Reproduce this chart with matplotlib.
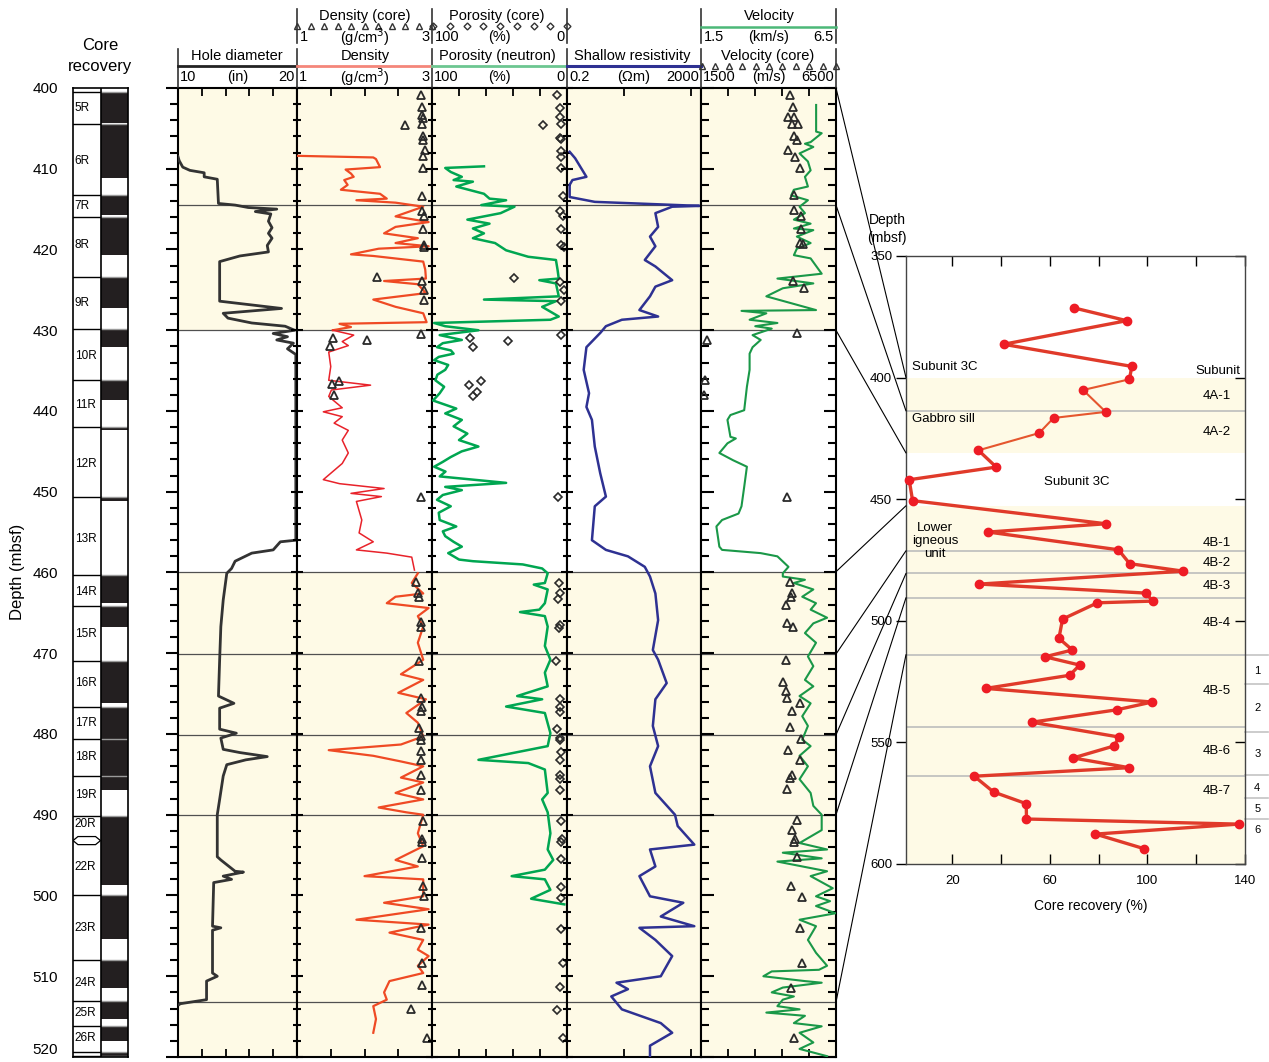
import numpy as np
import matplotlib
matplotlib.use('Agg')
import matplotlib.pyplot as plt
from matplotlib.ticker import MultipleLocator, FixedLocator
from matplotlib.patches import ConnectionPatch

plt.rcParams['font.family'] = ['Liberation Sans', 'DejaVu Sans']

# ---- downhole logs: (depth mbsf, value) ----
hole_diam = [(408.5, 10.0), (409.0, 10.1), (409.8, 10.4), (410.2, 11.0), (410.5, 12.2), (411.0, 12.2),
             (411.3, 13.3), (414.3, 13.4), (414.5, 14.8), (414.8, 15.9), (415.0, 18.3), (415.3, 16.5),
             (415.6, 17.8), (416.5, 17.6), (417.3, 17.9), (418.0, 17.6), (418.6, 17.9), (419.5, 17.5),
             (420.3, 17.6), (420.8, 15.2), (421.5, 13.5), (426.4, 13.5), (427.3, 18.7), (427.9, 13.8),
             (428.5, 14.2), (429.1, 16.2), (429.5, 19.0), (430.0, 19.8), (430.4, 18.0), (430.8, 19.2),
             (431.2, 18.3), (431.6, 19.7), (432.3, 19.2), (433.0, 19.9), (456.0, 19.9), (456.2, 18.6),
             (457.2, 18.0), (457.6, 16.2), (458.1, 15.5), (458.6, 14.8), (459.5, 14.5), (460.1, 14.1),
             (463.4, 13.8), (466.7, 13.6), (470.8, 13.5), (475.3, 13.4), (476.2, 14.7), (476.8, 13.5),
             (479.4, 13.5), (479.9, 14.9), (480.5, 13.6), (481.9, 13.8), (482.3, 15.2), (482.8, 17.5),
             (483.2, 15.7), (483.8, 14.1), (485.2, 13.8), (488.1, 13.5), (490.0, 13.3), (495.2, 13.3),
             (495.6, 13.6), (497.0, 14.8), (497.1, 15.5), (497.6, 13.8), (498.0, 14.5), (498.4, 13.0),
             (503.8, 12.9), (504.0, 13.6), (504.3, 12.9), (509.6, 12.9), (510.0, 13.3), (510.6, 12.4),
             (512.9, 12.4), (513.4, 10.2), (513.5, 10.1)]

density = [(408.4, 1.00), (408.6, 2.13), (408.8, 2.17), (409.8, 2.23), (410.1, 1.72), (410.6, 1.80),
           (411.0, 1.84), (411.4, 1.70), (412.0, 1.75), (412.6, 1.65), (412.8, 1.88), (413.1, 2.23),
           (413.7, 2.33), (413.9, 1.88), (414.2, 2.46), (414.7, 2.87), (415.2, 2.70), (415.9, 2.46),
           (416.6, 2.95), (417.2, 2.46), (418.0, 2.29), (418.6, 2.79), (419.2, 2.46), (419.6, 2.95),
           (419.9, 2.21), (420.6, 1.80), (420.8, 2.13), (421.5, 2.87), (422.5, 2.90), (423.6, 2.91),
           (423.9, 2.29), (424.3, 2.79), (425.4, 2.91), (426.2, 2.13), (427.1, 2.46), (427.9, 2.87),
           (429.0, 2.92), (429.2, 1.63), (429.6, 1.80), (430.0, 1.53), (430.6, 1.84), (431.4, 1.67),
           (431.9, 1.76), (432.7, 1.47), (434.5, 1.50), (436.2, 1.47), (436.8, 2.09), (437.4, 1.51),
           (438.2, 1.47), (439.6, 1.67), (440.1, 1.39), (440.7, 1.67), (441.5, 1.55), (442.4, 1.76),
           (443.6, 1.67), (445.2, 1.76), (446.5, 1.67), (448.5, 1.39), (449.0, 1.63), (449.6, 2.29),
           (450.2, 1.80), (450.6, 2.25), (451.2, 1.88), (453.5, 1.96), (455.1, 1.92), (456.2, 2.13),
           (457.2, 1.88), (457.6, 2.33), (458.1, 2.70), (459.7, 2.74), (460.1, 2.79), (461.3, 2.70),
           (462.6, 2.87), (463.0, 2.46), (463.8, 2.33), (464.4, 2.95), (465.4, 2.79), (466.7, 2.87),
           (468.7, 2.79), (470.8, 2.87), (472.6, 2.54), (473.3, 2.87), (474.9, 2.50), (475.7, 2.91),
           (477.4, 2.62), (478.6, 2.79), (480.3, 2.87), (481.3, 2.54), (482.0, 1.47), (482.7, 2.13),
           (483.4, 2.54), (484.0, 2.87), (485.4, 2.54), (486.0, 2.87), (487.3, 2.46), (488.1, 2.87),
           (489.1, 2.21), (489.7, 2.62), (490.0, 2.87), (492.3, 2.79), (493.9, 2.87), (495.6, 2.46),
           (496.4, 2.79), (497.6, 2.00), (498.0, 2.87), (500.1, 2.87), (500.9, 2.29), (501.7, 2.95),
           (503.0, 1.88), (503.6, 2.95), (504.6, 2.37), (505.5, 2.87), (506.7, 2.79), (507.5, 2.95),
           (508.7, 2.79), (509.6, 2.87), (510.6, 2.37), (512.0, 2.29), (512.9, 2.33), (513.7, 2.13),
           (515.3, 2.17), (517.0, 2.13)]

porosity = [(409.7, 61.5), (409.9, 90.2), (410.4, 86.1), (411.0, 77.9), (411.4, 84.0), (411.6, 69.7),
            (412.2, 82.0), (413.1, 61.5), (413.7, 57.4), (413.9, 45.1), (414.5, 63.5), (414.7, 38.9),
            (415.5, 49.2), (416.3, 73.8), (416.8, 57.4), (417.4, 69.7), (418.0, 61.5), (418.6, 69.7),
            (419.2, 53.3), (420.1, 45.1), (420.9, 28.7), (421.3, 8.2), (422.5, 7.0), (423.6, 6.1),
            (423.8, 20.5), (424.2, 8.2), (425.8, 6.1), (426.2, 61.5), (426.4, 8.2), (427.1, 18.4),
            (428.3, 6.1), (428.7, 12.3), (429.1, 98.4), (429.5, 90.2), (430.0, 65.6), (430.6, 94.3),
            (431.2, 77.9), (431.6, 92.0), (432.1, 96.3), (432.5, 86.0), (432.9, 84.0), (433.3, 95.0),
            (433.7, 98.4), (434.3, 88.0), (434.9, 90.2), (435.5, 96.0), (436.2, 97.5), (437.0, 91.0),
            (437.8, 94.3), (438.7, 99.2), (439.7, 82.0), (440.3, 90.2), (441.1, 77.9), (441.9, 84.0),
            (442.8, 73.8), (443.6, 80.0), (444.4, 65.6), (445.0, 78.0), (445.7, 86.1), (446.3, 92.0),
            (446.9, 98.4), (447.5, 90.0), (448.1, 94.3), (448.9, 45.1), (449.4, 90.2), (449.8, 77.9),
            (450.4, 92.0), (451.0, 96.3), (451.8, 86.1), (452.6, 95.0), (453.5, 94.3), (454.3, 82.0),
            (454.9, 92.0), (455.5, 90.2), (456.2, 84.0), (456.8, 77.9), (457.6, 88.0), (458.4, 79.9),
            (458.6, 69.7), (459.0, 32.8), (459.5, 18.4), (460.1, 14.3), (461.3, 16.4), (461.5, 24.6),
            (462.1, 14.3), (463.8, 16.4), (464.6, 20.5), (464.9, 34.8), (465.4, 16.4), (466.7, 14.3),
            (469.1, 16.4), (470.8, 12.3), (472.4, 16.4), (474.1, 14.3), (475.3, 36.9), (475.7, 18.4),
            (476.6, 45.1), (477.4, 16.4), (479.9, 12.3), (481.5, 14.3), (483.2, 65.6), (483.6, 28.7),
            (484.4, 16.4), (487.3, 14.3), (488.1, 18.4), (489.7, 14.3), (492.3, 12.3), (494.3, 14.3),
            (495.6, 10.2), (496.8, 16.4), (497.6, 41.0), (498.0, 16.4), (499.3, 12.3), (500.4, 26.6),
            (501.1, 2.0)]

resistivity = [(407.9, 0.24), (408.7, 0.35), (411.0, 0.76), (411.4, 0.29), (412.0, 0.24), (413.5, 0.24),
               (414.1, 1.35), (414.6, 1800), (414.7, 276), (415.5, 87), (417.2, 105), (418.4, 60),
               (419.6, 87), (421.3, 42), (422.1, 87), (423.8, 276), (424.6, 87), (425.8, 60),
               (427.5, 29), (428.3, 105), (428.7, 8.7), (429.5, 2.9), (430.3, 2.0), (432.1, 0.76),
               (434.9, 0.63), (437.8, 0.91), (439.5, 0.76), (441.1, 1.11), (444.4, 1.35), (447.7, 1.96),
               (450.6, 2.9), (451.8, 1.35), (456.0, 1.11), (457.2, 2.9), (458.0, 13.2), (459.3, 42),
               (460.5, 60), (462.6, 87), (465.9, 105), (469.6, 73), (470.8, 105), (473.7, 189),
               (475.7, 87), (479.0, 73), (481.5, 105), (484.0, 60), (487.3, 87), (490.0, 335),
               (491.4, 403), (493.7, 1262), (494.3, 60), (496.4, 87), (497.6, 29), (500.1, 60),
               (500.9, 593), (502.6, 126), (503.8, 1262), (504.0, 29), (505.5, 87), (507.5, 276),
               (510.0, 126), (510.8, 6.0), (511.6, 13.2), (512.5, 4.2), (514.1, 8.7), (515.8, 126),
               (517.0, 276), (518.6, 60), (519.9, 60)]

velocity = [(402.1, 5764), (405.4, 5764), (405.6, 5970), (406.7, 5560), (406.9, 5350), (407.3, 5660),
            (408.1, 5150), (409.1, 5460), (410.2, 5560), (411.0, 5350), (412.2, 5460), (412.6, 4940),
            (413.3, 4840), (413.9, 5460), (414.7, 5150), (415.5, 5350), (416.3, 4940), (416.8, 5560),
            (417.4, 4940), (417.6, 5660), (418.4, 5050), (419.2, 5560), (419.9, 5050), (420.7, 4940),
            (421.1, 5560), (423.0, 5970), (423.6, 4330), (424.2, 5660), (424.8, 4530), (425.8, 3920),
            (427.5, 5760), (427.6, 3000), (427.9, 3920), (428.7, 3300), (429.1, 4330), (429.5, 3510),
            (429.8, 4120), (430.6, 3410), (431.2, 3710), (432.1, 3410), (432.9, 3300), (434.9, 3300),
            (437.0, 3200), (439.9, 3100), (440.5, 2590), (441.1, 2480), (443.2, 2590), (443.4, 2790),
            (444.0, 2480), (445.2, 2180), (446.1, 2690), (446.9, 3200), (449.4, 3100), (451.8, 3000),
            (452.7, 2890), (453.5, 2280), (454.3, 2070), (456.8, 2180), (457.2, 2280), (457.6, 3710),
            (458.0, 4330), (459.3, 4740), (460.1, 4530), (460.5, 4530), (460.9, 5350), (461.3, 4940),
            (462.1, 5660), (463.0, 5250), (463.8, 5760), (464.6, 5560), (465.6, 6170), (466.3, 5660),
            (467.5, 5350), (468.7, 5760), (470.4, 5460), (471.6, 5660), (473.3, 5350), (474.1, 5660),
            (475.3, 5150), (476.2, 5560), (477.8, 5250), (479.0, 5460), (480.7, 5250), (481.5, 5560),
            (482.7, 5150), (484.0, 5460), (485.6, 5150), (487.3, 5560), (488.9, 5660), (490.0, 5970),
            (491.9, 5970), (493.5, 5150), (494.3, 6170), (494.7, 4530), (495.4, 5970), (495.8, 4330),
            (497.0, 6170), (497.6, 5560), (499.1, 6380), (500.1, 5760), (500.7, 6280), (501.3, 5760),
            (502.2, 6480), (503.0, 5150), (503.8, 5760), (505.5, 5460), (507.1, 5760), (508.7, 6170),
            (509.2, 5870), (509.4, 4120), (510.0, 3810), (510.6, 5350), (510.8, 5970), (511.4, 4530),
            (512.0, 4120), (512.5, 4940), (512.9, 4530), (513.7, 4330), (514.1, 5150), (514.5, 3920),
            (514.9, 5350), (515.8, 4940), (516.2, 5970), (517.0, 5150), (518.2, 5660), (519.0, 5150),
            (519.9, 6170)]

# ---- core measurements ----
density_core = [(400.9, 2.83), (402.4, 2.85), (403.4, 2.85), (403.7, 2.87), (404.4, 2.85), (404.6, 2.60),
                (406.0, 2.87), (406.4, 2.87), (407.7, 2.90), (408.4, 2.87), (409.9, 2.87), (413.4, 2.85),
                (415.2, 2.85), (415.9, 2.88), (417.5, 2.87), (419.4, 2.88), (419.7, 2.88), (423.4, 2.18),
                (423.9, 2.85), (425.0, 2.88), (426.2, 2.88), (430.5, 2.84), (431.0, 1.53), (431.2, 2.03),
                (431.9, 1.49), (436.3, 1.62), (436.7, 1.52), (438.0, 1.55), (450.6, 2.84), (461.2, 2.77),
                (462.6, 2.79), (463.0, 2.80), (466.1, 2.83), (466.7, 2.84), (470.9, 2.80), (475.5, 2.84),
                (476.6, 2.85), (477.2, 2.84), (479.2, 2.80), (480.3, 2.84), (480.7, 2.84), (482.1, 2.84),
                (483.2, 2.84), (485.1, 2.84), (486.9, 2.84), (490.8, 2.87), (493.0, 2.85), (493.4, 2.85),
                (495.4, 2.85), (498.8, 2.87), (500.1, 2.88), (504.0, 2.84), (508.3, 2.85), (511.1, 2.85),
                (514.1, 2.69), (517.7, 2.92)]

porosity_core = [(400.9, 7.4), (402.5, 4.9), (403.6, 4.9), (404.4, 4.1), (404.6, 17.6), (406.2, 4.9),
                 (406.3, 4.1), (407.8, 4.1), (408.5, 4.1), (409.9, 4.1), (413.4, 3.3), (415.2, 4.9),
                 (415.9, 3.3), (417.5, 4.1), (419.5, 4.1), (419.7, 2.5), (423.5, 38.9), (424.0, 4.9),
                 (425.0, 2.5), (426.4, 4.1), (430.6, 4.1), (431.0, 71.7), (431.3, 43.9), (432.1, 69.7),
                 (436.3, 63.5), (436.8, 72.9), (437.7, 66.8), (438.2, 69.7), (450.7, 7.0), (461.3, 6.1),
                 (462.6, 5.3), (463.3, 6.6), (466.5, 5.3), (466.9, 6.1), (471.0, 8.2), (475.7, 5.3),
                 (476.6, 4.9), (477.3, 5.3), (479.4, 7.4), (480.5, 5.3), (480.7, 4.9), (482.2, 4.1),
                 (483.2, 4.9), (485.1, 5.3), (485.6, 5.3), (486.9, 5.3), (490.8, 4.1), (493.0, 3.7),
                 (493.4, 4.1), (495.5, 4.1), (498.9, 4.1), (500.3, 4.1), (504.1, 4.1), (508.4, 2.9),
                 (511.3, 5.3), (514.2, 7.4), (517.7, 2.9)]

velocity_core = [(400.9, 4800), (402.4, 4900), (403.6, 4740), (403.6, 4940), (404.5, 4860), (404.5, 5110),
                 (406.0, 4940), (406.4, 5050), (407.7, 4740), (408.5, 4990), (409.9, 5150), (413.3, 4940),
                 (415.1, 4940), (415.9, 5210), (417.5, 5190), (419.2, 5150), (419.3, 5290), (423.9, 4900),
                 (424.8, 5310), (430.4, 5050), (431.2, 1730), (436.2, 1660), (438.0, 1600), (450.6, 4700),
                 (461.2, 4780), (462.6, 4880), (463.0, 4840), (464.0, 4640), (466.2, 4680), (466.8, 4900),
                 (470.8, 4640), (473.5, 4530), (474.7, 4640), (475.5, 4700), (476.2, 5150), (477.1, 4880),
                 (479.1, 4780), (480.6, 5190), (482.0, 4740), (483.2, 5150), (485.1, 4880), (485.4, 4780),
                 (486.8, 4680), (490.7, 5050), (491.9, 4880), (493.0, 4990), (493.4, 4940), (495.2, 5050),
                 (498.8, 4840), (500.2, 5250), (504.0, 5150), (508.3, 5250), (511.4, 4840), (517.7, 4940)]

# ---- core recovery column ----
core_names = ['5R', '6R', '7R', '8R', '9R', '10R', '11R', '12R', '13R', '14R', '15R', '16R',
              '17R', '18R', '19R', '20R', '22R', '23R', '24R', '25R', '26R']
core_label_depth = [402.5, 409.0, 414.6, 419.5, 426.6, 433.2, 439.3, 446.6, 455.8, 462.4, 467.6,
                    473.7, 478.6, 482.8, 487.6, 491.1, 496.5, 504.0, 510.8, 514.6, 517.7]
core_bounds = [400.5, 404.5, 413.3, 416.0, 423.4, 429.9, 436.2, 442.0, 450.7, 460.3, 464.2, 470.9,
               476.6, 480.6, 485.2, 490.1, 500.0, 508.0, 513.1, 516.2, 519.4, 519.9]
recovered = [(400.5, 404.3), (404.5, 411.2), (413.3, 415.7), (416.0, 420.7), (423.4, 427.2),
             (430.0, 432.1), (436.2, 438.6), (442.0, 442.4), (450.7, 451.2), (460.3, 463.8),
             (464.2, 466.7), (470.9, 476.1), (476.6, 480.6), (480.6, 486.9), (490.1, 498.7),
             (500.0, 505.4), (508.0, 511.4), (513.1, 515.3), (516.2, 518.0), (519.5, 520.0)]

# ---- core recovery (%) versus depth for the whole hole ----
rec_depth = [371.3, 376.6, 386.3, 395.4, 400.7, 405.1, 414.1, 416.6, 422.8, 429.9, 436.8, 442.0,
             450.6, 460.1, 463.5, 470.8, 476.5, 479.6, 484.9, 488.6, 491.9, 492.6, 499.3, 507.2,
             512.0, 514.8, 518.2, 522.4, 527.8, 533.4, 536.6, 541.7, 547.8, 551.5, 556.4, 560.4,
             563.9, 570.4, 575.2, 581.5, 583.6, 587.7, 593.7]
rec_pct = [69.7, 91.5, 41.0, 93.6, 92.6, 73.6, 82.9, 61.5, 55.6, 30.7, 38.0, 2.3,
           3.7, 83.0, 34.7, 88.1, 92.7, 114.7, 31.1, 99.3, 102.2, 79.5, 65.2, 63.7,
           69.2, 58.0, 72.2, 68.1, 33.7, 101.9, 87.4, 52.6, 88.4, 86.2, 69.5, 92.5,
           29.0, 36.9, 50.3, 50.4, 137.4, 78.7, 98.6]

log_units = [414.5, 430.0, 459.9, 470.1, 480.1, 490.0, 513.2]
rc_units = [413.7, 471.2, 480.5, 490.5, 513.9, 543.5, 563.9]
# log depth -> depth on the recovery plot
tie_lines = [(400.0, 400.0), (414.5, 413.7), (430.0, 431.0), (459.9, 452.7), (470.1, 471.2),
             (480.1, 480.5), (490.0, 490.5), (513.2, 513.9)]
sub_bounds = [513.9, 526.0, 545.6, 563.4, 572.7, 581.5]
sub_labels = ['1', '2', '3', '4', '5', '6']
sub_label_depth = [520.6, 535.9, 554.8, 568.8, 577.4, 586.1]
unit_names = ['4A-1', '4A-2', '4B-1', '4B-2', '4B-3', '4B-4', '4B-5', '4B-6', '4B-7']
unit_depth = [407.6, 422.4, 468.0, 476.2, 485.7, 500.9, 528.9, 553.5, 570.0]

CREAM = '#fefae6'
W, H = 1269, 1062
fig = plt.figure(figsize=(W / 100, H / 100), dpi=100)


def box(x0, y0, x1, y1):
    return fig.add_axes([x0 / W, 1 - y1 / H, (x1 - x0) / W, (y1 - y0) / H])


def cols(pairs):
    a = np.array(pairs, dtype=float)
    return a[:, 0], a[:, 1]


TOP, BOT = 88, 1057
edges = [178, 297, 432, 567, 701, 836]
axs = [box(edges[i], TOP, edges[i + 1], BOT) for i in range(5)]
ax_hd, ax_den, ax_por, ax_res, ax_vel = axs
ax_hd.set_xlim(10, 20)
ax_den.set_xlim(1, 3)
ax_por.set_xlim(100, 0)
ax_res.set_xscale('log')
ax_res.set_xlim(0.2, 2000)
ax_vel.set_xlim(1500, 6500)

ax_hd.xaxis.set_major_locator(FixedLocator([12, 14, 16, 18]))
ax_den.xaxis.set_major_locator(FixedLocator([1.5, 2, 2.5]))
ax_por.xaxis.set_major_locator(FixedLocator([80, 60, 40, 20]))
ax_vel.xaxis.set_major_locator(FixedLocator([2500, 3500, 4500, 5500]))

for i, ax in enumerate(axs):
    ax.set_ylim(520, 400)
    ax.axhspan(400, 430, color=CREAM, lw=0, zorder=0)
    ax.axhspan(460, 520, color=CREAM, lw=0, zorder=0)
    for d in log_units:
        ax.axhline(d, color='#505050', lw=0.9, zorder=1)
    ax.yaxis.set_major_locator(MultipleLocator(10))
    ax.yaxis.set_minor_locator(MultipleLocator(2))
    ydir = 'out' if i == 0 else 'inout'
    ax.tick_params(axis='y', which='major', direction=ydir, length=9, width=1.5, labelleft=False)
    ax.tick_params(axis='y', which='minor', direction=ydir, length=6, width=1.5)
    ax.tick_params(axis='x', which='major', direction='in', top=True, bottom=True,
                   labelbottom=False, length=6, width=1.3)
    ax.tick_params(axis='x', which='minor', direction='in', top=True, bottom=True,
                   labelbottom=False, length=4, width=1.0)
    for s in ax.spines.values():
        s.set_linewidth(1.5)
ax_vel.tick_params(axis='y', which='both', right=True, direction='in')

d, v = cols(hole_diam)
ax_hd.plot(v, d, color='#333333', lw=2.0, zorder=3)
d, v = cols(density)
mid = (d >= 430) & (d <= 460)
ax_den.plot(np.where(d <= 430, v, np.nan), d, color='#ef4a24', lw=1.6, zorder=3)
ax_den.plot(np.where(mid, v, np.nan), d, color='#e8222a', lw=1.1, zorder=3)
ax_den.plot(np.where(d >= 460, v, np.nan), d, color='#ef4a24', lw=1.6, zorder=3)
d, v = cols(porosity)
ax_por.plot(v, d, color='#00a651', lw=1.8, zorder=3)
d, v = cols(resistivity)
ax_res.plot(v, d, color='#2e3192', lw=1.8, zorder=3)
d, v = cols(velocity)
ax_vel.plot(v, d, color='#1a9848', lw=1.5, zorder=3)

d, v = cols(density_core)
ax_den.plot(v, d, ls='none', marker='^', mfc='none', mec='#2a2a2a', ms=5.5, mew=1.3, zorder=4)
d, v = cols(porosity_core)
ax_por.plot(v, d, ls='none', marker='D', mfc='none', mec='#2a2a2a', ms=4.5, mew=1.2, zorder=4)
d, v = cols(velocity_core)
ax_vel.plot(v, d, ls='none', marker='^', mfc='none', mec='#2a2a2a', ms=5.5, mew=1.3, zorder=4)

# core recovery column
axc = box(73, TOP, 128, BOT)
axc.set_xlim(0, 2)
axc.set_ylim(520, 400)
tops = np.array([r[0] for r in recovered])
bots = np.array([r[1] for r in recovered])
axc.bar(np.full(len(tops), 1.5), bots - tops, width=1.0, bottom=tops, color='#231f20', lw=0)
for b in core_bounds:
    axc.plot([0, 1], [b, b], color='black', lw=1.0)
    axc.plot([1, 2], [b, b], color='#9a9a9a', lw=1.0)
axc.axvline(1, color='black', lw=1.2)
for name, dep in zip(core_names, core_label_depth):
    axc.text(0.06, dep, name, fontsize=8.5, ha='left', va='center')
axc.fill([0.0, 0.18, 0.82, 1.0, 0.82, 0.18], [493.2, 492.7, 492.7, 493.2, 493.7, 493.7],
         facecolor='white', edgecolor='black', lw=0.9, zorder=3)
axc.set_xticks([])
axc.set_yticks(np.arange(400, 521, 10))
axc.tick_params(axis='y', length=0, pad=11, labelsize=11)
axc.get_yticklabels()[-1].set_verticalalignment('bottom')
for s in axc.spines.values():
    s.set_linewidth(1.2)

# recovery vs depth plot
rc = box(906, 256, 1245, 864)
rc.set_xlim(1, 140)
rc.set_ylim(600, 350)
rc.axhspan(400, 431, color=CREAM, lw=0, zorder=0)
rc.axhspan(452.7, 600, color=CREAM, lw=0, zorder=0)
for dd in rc_units:
    rc.axhline(dd, color='#bdbdbd', lw=1.2, zorder=1)
lc = '#e03a2a'
rc.plot(rec_pct[:5], rec_depth[:5], color=lc, lw=2.4, zorder=3, clip_on=False)
rc.plot(rec_pct[4:10], rec_depth[4:10], color='#e5562e', lw=1.5, zorder=3, clip_on=False)
rc.plot(rec_pct[9:], rec_depth[9:], color=lc, lw=2.4, zorder=3, clip_on=False)
rc.plot(rec_pct, rec_depth, ls='none', marker='o', ms=6, color='#ee1c25', zorder=4, clip_on=False)
rc.set_xticks([20, 40, 60, 80, 100, 120, 140])
rc.set_xticklabels(['20', '', '60', '', '100', '', '140'])
rc.set_yticks([350, 400, 450, 500, 550, 600])
rc.tick_params(axis='x', direction='in', top=True, length=7, width=1, labelsize=9.5, pad=8)
rc.tick_params(axis='y', direction='out', length=7, width=1, labelsize=9.5, pad=3)
rc.tick_params(axis='y', which='both', right=True)
for t in rc.yaxis.get_major_ticks():
    t.tick2line.set_marker(matplotlib.lines.TICKLEFT)
for s in rc.spines.values():
    s.set_linewidth(1.0)
    s.set_color('#444444')
for dd in sub_bounds:
    rc.plot([140, 149.5], [dd, dd], color='#c4c4c4', lw=1.2, clip_on=False)
for lab, dd in zip(sub_labels, sub_label_depth):
    rc.text(145, dd, lab, fontsize=8, ha='center', va='center')
for name, dd in zip(unit_names, unit_depth):
    rc.text(128.3, dd, name, fontsize=9.5, ha='center', va='center')
rc.text(3.5, 395.6, 'Subunit 3C', fontsize=9.5, ha='left', va='center')
rc.text(138.2, 397.3, 'Subunit', fontsize=9.5, ha='right', va='center')
rc.text(3.5, 417.0, 'Gabbro sill', fontsize=9.5, ha='left', va='center')
rc.text(71.2, 442.9, 'Subunit 3C', fontsize=9.5, ha='center', va='center')
rc.text(12.9, 467.2, 'Lower\nigneous\nunit', fontsize=9.5, ha='center', va='center', linespacing=1.15)

# lines tying log units to the recovery plot
for dl, dr in tie_lines:
    con = ConnectionPatch(xyA=(6500, dl), coordsA=ax_vel.transData, xyB=(1, dr), coordsB=rc.transData,
                          color='black', lw=0.8)
    fig.add_artist(con)

# header overlay in pixel coordinates
ov = fig.add_axes([0, 0, 1, 1], zorder=10)
ov.set_xlim(0, W)
ov.set_ylim(H, 0)
ov.axis('off')


def txt(x, y, s, ha='center', size=10.5):
    ov.text(x, y, s, fontsize=size, ha=ha, va='center')


for x in edges[1:]:
    ov.plot([x, x], [9, 43], color='#333333', lw=1.2)
for x in edges:
    ov.plot([x, x], [49, 87], color='#333333', lw=1.2)

txt(365, 16, 'Density (core)')
txt(497, 16, 'Porosity (core)')
txt(769, 16, 'Velocity')
ov.plot(np.linspace(297, 432, 11), np.full(11, 26), ls='none', marker='^', mfc='none', mec='#333333',
        ms=4, mew=1)
ov.plot(np.linspace(433, 567, 9), np.full(9, 26), ls='none', marker='D', mfc='none', mec='#333333',
        ms=3.5, mew=1)
ov.plot([701, 836], [27, 27], color='#4cb878', lw=1.8)
for x0, x1, lo, unit, hi in [(297, 432, '1', '(g/cm$^3$)', '3'), (432, 567, '100', '(%)', '0'),
                             (701, 836, '1.5', '(km/s)', '6.5')]:
    txt(x0 + 3, 37, lo, ha='left')
    txt((x0 + x1) / 2, 37, unit)
    txt(x1 - 2, 37, hi, ha='right')

txt(237, 56, 'Hole diameter')
txt(365, 56, 'Density')
txt(497, 56, 'Porosity (neutron)')
txt(632, 56, 'Shallow resistivity')
txt(768, 56, 'Velocity (core)')
ov.plot([178, 297], [66, 66], color='#222222', lw=2)
ov.plot([297, 432], [66, 66], color='#f4867a', lw=2)
ov.plot([432, 567], [66, 66], color='#6cc691', lw=2)
ov.plot([567, 701], [66, 66], color='#2e3192', lw=2.2)
ov.plot(np.linspace(702, 836, 11), np.full(11, 66), ls='none', marker='^', mfc='none', mec='#333333',
        ms=4, mew=1)
for x0, x1, lo, unit, hi in [(178, 297, '10', '(in)', '20'), (297, 432, '1', '(g/cm$^3$)', '3'),
                             (432, 567, '100', '(%)', '0'), (567, 701, '0.2', '(\u03a9m)', '2000'),
                             (701, 836, '1500', '(m/s)', '6500')]:
    txt(x0 + 2, 77, lo, ha='left')
    txt((x0 + x1) / 2, 77, unit)
    txt(x1 - 2, 77, hi, ha='right')

txt(100, 45, 'Core', size=12)
txt(100, 66, 'recovery', size=12)
ov.text(18, 572, 'Depth (mbsf)', fontsize=12, rotation=90, ha='center', va='center')
ov.text(887, 229, 'Depth\n(mbsf)', fontsize=10, ha='center', va='center', linespacing=1.35)
ov.text(1091, 906, 'Core recovery (%)', fontsize=10, ha='center', va='center')

fig.savefig('out.png', dpi=100)
